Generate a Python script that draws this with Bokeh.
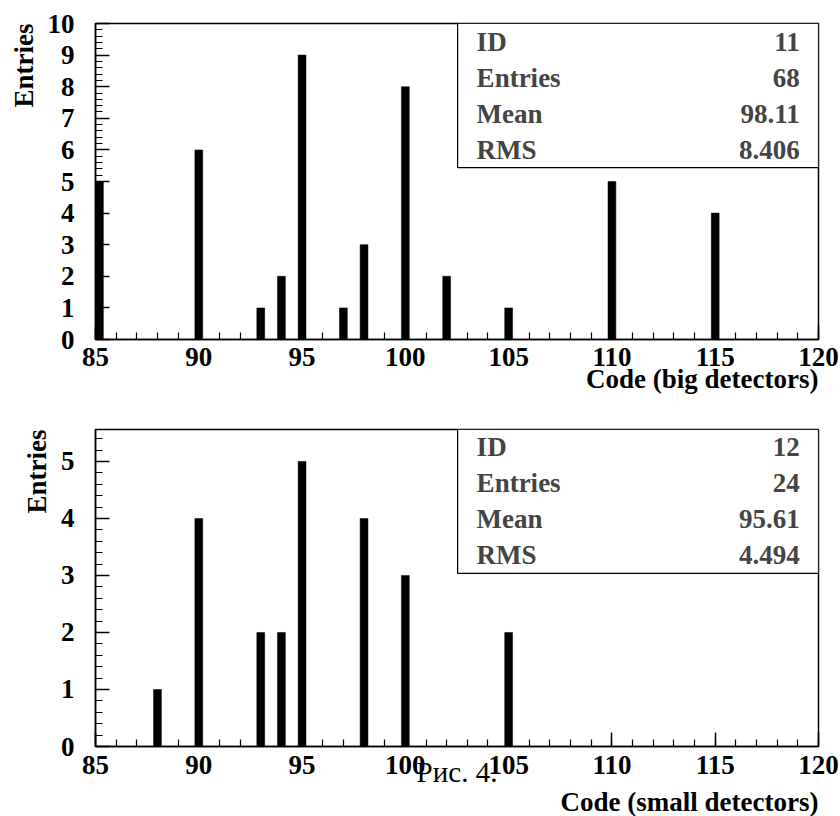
import numpy as np
from bokeh.plotting import figure
from bokeh.layouts import column
from bokeh.models import Range1d, SingleIntervalTicker, Label, Title
from bokeh.embed import file_html
from bokeh.resources import INLINE

# ---- data ----
big_codes = [85, 90, 93, 94, 95, 97, 98, 100, 102, 105, 110, 115]
big_counts = [5, 6, 1, 2, 9, 1, 3, 8, 2, 1, 5, 4]
small_codes = [88, 90, 93, 94, 95, 98, 100, 105]
small_counts = [1, 4, 2, 2, 5, 4, 3, 2]

stat_names = ["ID", "Entries", "Mean", "RMS"]
big_stats = ["11", "68", "98.11", "8.406"]
small_stats = ["12", "24", "95.61", "4.494"]

big_title = "Code (big detectors)"
small_title = "Code (small detectors)"
y_title = "Entries"
caption = "Рис. 4."

X_MIN, X_MAX = 85, 120
FONT = "Liberation Serif"
BAR_W = 0.38


def make_panel(codes, counts, ymax, stats, xtitle, height, b_top, b_bottom,
               box_bottom, tick_standoff, title_standoff, caption_text=None):
    p = figure(width=840, height=height, output_backend="svg", toolbar_location=None,
               x_range=Range1d(X_MIN, X_MAX), y_range=Range1d(0, ymax),
               min_border_left=93, min_border_right=22,
               min_border_top=b_top, min_border_bottom=b_bottom)
    p.xgrid.visible = False
    p.ygrid.visible = False
    p.outline_line_color = "black"
    p.outline_line_width = 1.5
    p.background_fill_color = "white"
    p.border_fill_color = "white"

    codes = np.asarray(codes, dtype=float)
    left = np.maximum(codes - BAR_W / 2, X_MIN)
    p.quad(left=left, right=left + BAR_W, bottom=0, top=counts,
           fill_color="black", line_color="black", line_width=0.5)

    p.xaxis.ticker = SingleIntervalTicker(interval=5, num_minor_ticks=5)
    p.yaxis.ticker = SingleIntervalTicker(interval=1, num_minor_ticks=5)
    for ax in (p.xaxis[0], p.yaxis[0]):
        ax.major_tick_in = 14
        ax.major_tick_out = 0
        ax.minor_tick_in = 7
        ax.minor_tick_out = 0
        ax.axis_line_width = 1.5
        ax.major_tick_line_width = 1.5
        ax.minor_tick_line_width = 1.2
        ax.major_label_text_font = FONT
        ax.major_label_text_font_style = "bold"
        ax.major_label_text_font_size = "27px"
        ax.major_label_text_color = "black"
    p.xaxis.major_label_standoff = tick_standoff
    p.yaxis.major_label_standoff = 21

    if caption_text is not None:
        p.xaxis.axis_label = caption_text
        p.xaxis.axis_label_text_font = FONT
        p.xaxis.axis_label_text_font_style = "normal"
        p.xaxis.axis_label_text_font_size = "29px"
        p.xaxis.axis_label_text_color = "black"
        p.xaxis.axis_label_standoff = -21

    # stat box
    p.quad(left=102.53, right=X_MAX, bottom=box_bottom, top=ymax,
           fill_color="white", line_color="black", line_width=1.2)
    for i, (n, v) in enumerate(zip(stat_names, stats)):
        yy = ymax - (ymax - box_bottom) * (i + 0.5) / 4
        p.add_layout(Label(x=103.45, y=yy, text=n, text_font=FONT,
                           text_font_style="bold", text_font_size="27px",
                           text_align="left", text_baseline="middle"))
        p.add_layout(Label(x=119.09, y=yy, text=v, text_font=FONT,
                           text_font_style="bold", text_font_size="27px",
                           text_align="right", text_baseline="middle"))

    # axis titles
    p.add_layout(Title(text=xtitle, align="right", text_font=FONT,
                       text_font_style="bold", text_font_size="27px",
                       text_color="black", standoff=title_standoff), "below")
    p.add_layout(Title(text=y_title, align="right", text_font=FONT,
                       text_font_style="bold", text_font_size="27px",
                       text_color="black", standoff=12), "left")
    return p


p1 = make_panel(big_codes, big_counts, 10, big_stats, big_title, 398, 23, 59,
                5.44, 8, -13)
p2 = make_panel(small_codes, small_counts, 5.56, small_stats, small_title, 418, 31, 70,
                3.035, 9, -11, caption_text=caption)

layout = column(p1, p2, spacing=0)
open("out.html", "w").write(file_html(layout, INLINE))
